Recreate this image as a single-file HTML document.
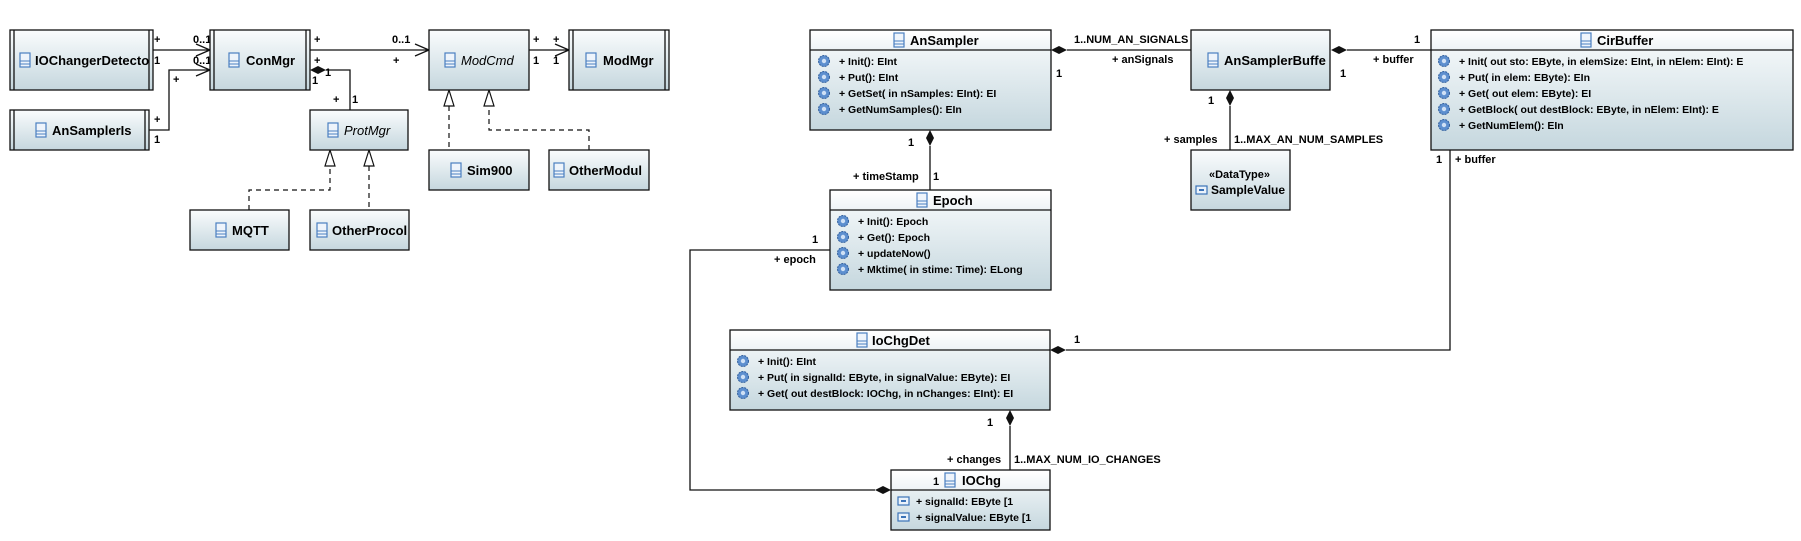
<!DOCTYPE html>
<html><head><meta charset="utf-8"><style>
html,body{margin:0;padding:0;background:#fff;}
svg{display:block;}
text{font-family:"Liberation Sans",sans-serif;fill:#000;}
.n{font-size:13px;font-weight:bold;}
.m{font-size:10.5px;font-weight:bold;}
.l{font-size:11px;font-weight:bold;}
.b{fill:url(#g);stroke:#111;stroke-width:1.3;}
.h{fill:url(#gh);}
.ln{stroke:#111;stroke-width:1.3;fill:none;}
.d{stroke:#111;stroke-width:1.2;fill:none;stroke-dasharray:5,4;}
</style></head><body>
<svg width="1801" height="541" viewBox="0 0 1801 541" xmlns="http://www.w3.org/2000/svg">
<defs>
<linearGradient id="g" x1="0" y1="0" x2="0" y2="1"><stop offset="0" stop-color="#fafcfd"/><stop offset="1" stop-color="#c5d7de"/></linearGradient>
<linearGradient id="gh" x1="0" y1="0" x2="0" y2="1"><stop offset="0" stop-color="#ffffff"/><stop offset="1" stop-color="#eef3f6"/></linearGradient>
<clipPath id="csv"><rect x="1191" y="150" width="98" height="60"/></clipPath>
<g id="ci"><rect x="0" y="0" width="10" height="14" fill="#eef4fb" stroke="#4a7fc0" stroke-width="1.2"/><line x1="0" y1="8" x2="10" y2="8" stroke="#4a7fc0"/><line x1="0" y1="11" x2="10" y2="11" stroke="#4a7fc0"/></g>
<g id="gr"><circle r="5.5" fill="#5d8fcf" stroke="#2e5d9c" stroke-width="1" stroke-dasharray="2,1"/><circle r="2.2" fill="#cfe0f5"/></g>
<g id="at"><rect x="0" y="0" width="11" height="8" fill="#eaf2fb" stroke="#3b73b8" stroke-width="1.2"/><rect x="3" y="3" width="5" height="2" fill="#3b73b8"/></g>
</defs>

<path class="ln" d="M153,50 H210 M196,44 L210,50 L196,56"/>
<path class="ln" d="M149,130 H169 V70 H210 M196,64 L210,70 L196,76"/>
<path class="ln" d="M310,50 H429 M415,44 L429,50 L415,56"/>
<path class="ln" d="M529,50 H569 M555,44 L569,50 L555,56"/>
<path class="ln" d="M326,70 H350 V110"/>
<path d="M310,70 L318,66 L326,70 L318,74 Z" fill="#111"/>
<path class="d" d="M449,106 V150"/><path d="M449,90 L444,106 L454,106 Z" fill="#fff" stroke="#111" stroke-width="1.2"/>
<path class="d" d="M589,150 V130 H489 V106"/><path d="M489,90 L484,106 L494,106 Z" fill="#fff" stroke="#111" stroke-width="1.2"/>
<path class="d" d="M249,210 V190 H330 V166"/><path d="M330,150 L325,166 L335,166 Z" fill="#fff" stroke="#111" stroke-width="1.2"/>
<path class="d" d="M369,166 V210"/><path d="M369,150 L364,166 L374,166 Z" fill="#fff" stroke="#111" stroke-width="1.2"/>

<g class="l">
<text x="154" y="43">+</text><text x="154" y="64">1</text>
<text x="193" y="43">0..1</text><text x="193" y="64">0..1</text>
<text x="173" y="83">+</text>
<text x="154" y="123">+</text><text x="154" y="143">1</text>
<text x="314" y="43">+</text><text x="314" y="64">+</text>
<text x="392" y="43">0..1</text><text x="393" y="64">+</text>
<text x="312" y="84">1</text><text x="325" y="76">1</text>
<text x="333" y="103">+</text><text x="352" y="103">1</text>
<text x="533" y="43">+</text><text x="533" y="64">1</text>
<text x="553" y="43">+</text><text x="553" y="64">1</text>
</g>

<rect class="b" x="10" y="30" width="143" height="60"/><path class="ln" d="M14,30V90M149,30V90"/>
<use href="#ci" x="20" y="53"/><text class="n" x="35" y="65">IOChangerDetecto</text>
<rect class="b" x="210" y="30" width="100" height="60"/><path class="ln" d="M214,30V90M306,30V90"/>
<use href="#ci" x="229" y="53"/><text class="n" x="246" y="65">ConMgr</text>
<rect class="b" x="429" y="30" width="100" height="60"/>
<use href="#ci" x="445" y="53"/><text class="n" x="461" y="65" style="font-style:italic;font-weight:normal">ModCmd</text>
<rect class="b" x="569" y="30" width="100" height="60"/><path class="ln" d="M573,30V90M665,30V90"/>
<use href="#ci" x="586" y="53"/><text class="n" x="603" y="65">ModMgr</text>
<rect class="b" x="10" y="110" width="139" height="40"/><path class="ln" d="M14,110V150M145,110V150"/>
<use href="#ci" x="36" y="123"/><text class="n" x="52" y="135">AnSamplerIs</text>
<rect class="b" x="310" y="110" width="98" height="40"/>
<use href="#ci" x="328" y="123"/><text class="n" x="344" y="135" style="font-style:italic;font-weight:normal">ProtMgr</text>
<rect class="b" x="429" y="150" width="100" height="40"/>
<use href="#ci" x="451" y="163"/><text class="n" x="467" y="175">Sim900</text>
<rect class="b" x="549" y="150" width="100" height="40"/>
<use href="#ci" x="554" y="163"/><text class="n" x="569" y="175">OtherModul</text>
<rect class="b" x="190" y="210" width="99" height="40"/>
<use href="#ci" x="216" y="223"/><text class="n" x="232" y="235">MQTT</text>
<rect class="b" x="310" y="210" width="99" height="40"/>
<use href="#ci" x="317" y="223"/><text class="n" x="332" y="235">OtherProcol</text>

<path class="ln" d="M1067,50 H1191"/><path d="M1051,50 L1059,46 L1067,50 L1059,54 Z" fill="#111"/>
<path class="ln" d="M1347,50 H1431"/><path d="M1331,50 L1339,46 L1347,50 L1339,54 Z" fill="#111"/>
<path class="ln" d="M1230,106 V150"/><path d="M1230,90 L1226,98 L1230,106 L1234,98 Z" fill="#111"/>
<path class="ln" d="M930,146 V190"/><path d="M930,130 L926,138 L930,146 L934,138 Z" fill="#111"/>
<path class="ln" d="M1450,150 V350 H1066"/><path d="M1050,350 L1058,346 L1066,350 L1058,354 Z" fill="#111"/>
<path class="ln" d="M1010,426 V470"/><path d="M1010,410 L1006,418 L1010,426 L1014,418 Z" fill="#111"/>
<path class="ln" d="M830,250 H690 V490 H875"/><path d="M875,490 L883,486 L891,490 L883,494 Z" fill="#111"/>

<g class="l">
<text x="1074" y="43">1..NUM_AN_SIGNALS</text>
<text x="1112" y="63">+ anSignals</text><text x="1056" y="77">1</text>
<text x="1414" y="43">1</text><text x="1373" y="63">+ buffer</text><text x="1340" y="77">1</text>
<text x="1208" y="104">1</text><text x="1164" y="143">+ samples</text><text x="1234" y="143">1..MAX_AN_NUM_SAMPLES</text>
<text x="908" y="146">1</text><text x="853" y="180">+ timeStamp</text><text x="933" y="180">1</text>
<text x="1436" y="163">1</text><text x="1455" y="163">+ buffer</text>
<text x="812" y="243">1</text><text x="774" y="263">+ epoch</text>
<text x="1074" y="343">1</text>
<text x="987" y="426">1</text><text x="947" y="463">+ changes</text><text x="1014" y="463">1..MAX_NUM_IO_CHANGES</text>
</g>

<rect class="b" x="810" y="30" width="241" height="100"/>
<rect class="h" x="811" y="31" width="239" height="19"/><line class="ln" x1="810" y1="50" x2="1051" y2="50"/>
<use href="#ci" x="894" y="33"/><text class="n" x="910" y="45">AnSampler</text>
<g class="m">
<use href="#gr" x="824" y="61"/><text x="839" y="65">+ Init(): EInt</text>
<use href="#gr" x="824" y="77"/><text x="839" y="81">+ Put(): EInt</text>
<use href="#gr" x="824" y="93"/><text x="839" y="97">+ GetSet(  in nSamples: EInt): EI</text>
<use href="#gr" x="824" y="109"/><text x="839" y="113">+ GetNumSamples(): EIn</text>
</g>

<rect class="b" x="830" y="190" width="221" height="100"/>
<rect class="h" x="831" y="191" width="219" height="19"/><line class="ln" x1="830" y1="210" x2="1051" y2="210"/>
<use href="#ci" x="917" y="193"/><text class="n" x="933" y="205">Epoch</text>
<g class="m">
<use href="#gr" x="843" y="221"/><text x="858" y="225">+ Init(): Epoch</text>
<use href="#gr" x="843" y="237"/><text x="858" y="241">+ Get(): Epoch</text>
<use href="#gr" x="843" y="253"/><text x="858" y="257">+ updateNow()</text>
<use href="#gr" x="843" y="269"/><text x="858" y="273">+ Mktime(  in stime: Time): ELong</text>
</g>

<rect class="b" x="1191" y="30" width="139" height="60"/>
<use href="#ci" x="1208" y="53"/><text class="n" x="1224" y="65">AnSamplerBuffe</text>

<rect class="b" x="1191" y="150" width="99" height="60"/>
<text class="l" x="1209" y="178">«DataType»</text>
<use href="#at" x="1196" y="186"/>
<g clip-path="url(#csv)"><text class="n" x="1211" y="194" style="font-size:12px">SampleValue</text></g>

<rect class="b" x="1431" y="30" width="362" height="120"/>
<rect class="h" x="1432" y="31" width="360" height="19"/><line class="ln" x1="1431" y1="50" x2="1793" y2="50"/>
<use href="#ci" x="1581" y="33"/><text class="n" x="1597" y="45">CirBuffer</text>
<g class="m">
<use href="#gr" x="1444" y="61"/><text x="1459" y="65">+ Init(  out sto: EByte,   in elemSize: EInt,   in nElem: EInt): E</text>
<use href="#gr" x="1444" y="77"/><text x="1459" y="81">+ Put(  in elem: EByte): EIn</text>
<use href="#gr" x="1444" y="93"/><text x="1459" y="97">+ Get(  out elem: EByte): EI</text>
<use href="#gr" x="1444" y="109"/><text x="1459" y="113">+ GetBlock(  out destBlock: EByte,   in nElem: EInt): E</text>
<use href="#gr" x="1444" y="125"/><text x="1459" y="129">+ GetNumElem(): EIn</text>
</g>

<rect class="b" x="730" y="330" width="320" height="80"/>
<rect class="h" x="731" y="331" width="318" height="19"/><line class="ln" x1="730" y1="350" x2="1050" y2="350"/>
<use href="#ci" x="857" y="333"/><text class="n" x="872" y="345">IoChgDet</text>
<g class="m">
<use href="#gr" x="743" y="361"/><text x="758" y="365">+ Init(): EInt</text>
<use href="#gr" x="743" y="377"/><text x="758" y="381">+ Put(  in signalId: EByte,   in signalValue: EByte): EI</text>
<use href="#gr" x="743" y="393"/><text x="758" y="397">+ Get(  out destBlock: IOChg,   in nChanges: EInt): EI</text>
</g>

<rect class="b" x="891" y="470" width="159" height="60"/>
<rect class="h" x="892" y="471" width="157" height="19"/><line class="ln" x1="891" y1="490" x2="1050" y2="490"/>
<text class="l" x="933" y="485">1</text>
<use href="#ci" x="945" y="473"/><text class="n" x="962" y="485">IOChg</text>
<g class="m">
<use href="#at" x="898" y="497"/><text x="916" y="505">+ signalId: EByte [1</text>
<use href="#at" x="898" y="513"/><text x="916" y="521">+ signalValue: EByte [1</text>
</g>
</svg>
</body></html>
